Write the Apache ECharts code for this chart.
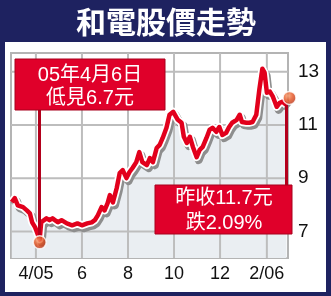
<!DOCTYPE html>
<html>
<head>
<meta charset="utf-8">
<script src="https://cdn.jsdelivr.net/npm/echarts@6/dist/echarts.min.js"></script>
<style>
html,body{margin:0;padding:0;background:#1e2260;}
#wrap{position:relative;width:331px;height:296px;background:#1e2260;}
#panel{position:absolute;left:5px;top:42px;width:321px;height:250px;background:#ffffff;}
#c{position:absolute;left:0;top:0;width:331px;height:296px;}
</style>
</head>
<body>
<div id="wrap"><div id="panel"></div><div id="c"></div></div>
<script>
var dates = ['2005-02-28','2005-03-04','2005-03-08','2005-03-15','2005-03-20','2005-03-24','2005-03-27','2005-03-31','2005-04-06','2005-04-08',
'2005-04-15','2005-04-19','2005-04-23','2005-04-30','2005-05-05','2005-05-12','2005-05-19','2005-05-26','2005-06-01','2005-06-08',
'2005-06-14','2005-06-18','2005-06-22','2005-06-27','2005-07-01','2005-07-05','2005-07-08','2005-07-12','2005-07-17','2005-07-21',
'2005-07-25','2005-07-30','2005-08-03','2005-08-07','2005-08-12','2005-08-16','2005-08-20','2005-08-26','2005-08-30','2005-09-03',
'2005-09-08','2005-09-12','2005-09-16','2005-09-21','2005-09-25','2005-09-30','2005-10-06','2005-10-11','2005-10-14','2005-10-18',
'2005-10-22','2005-10-26','2005-10-31','2005-11-04','2005-11-08','2005-11-13','2005-11-17','2005-11-21','2005-11-26','2005-11-30',
'2005-12-04','2005-12-09','2005-12-13','2005-12-17','2005-12-23','2005-12-27','2005-12-30','2006-01-05','2006-01-09','2006-01-13',
'2006-01-18','2006-01-22','2006-01-26','2006-01-29','2006-02-01','2006-02-05','2006-02-09','2006-02-14','2006-02-18','2006-02-22',
'2006-02-27'];
var prices = [8.1,8.25,7.98,7.91,7.79,7.68,7.34,7.15,6.7,7.34,
7.49,7.42,7.49,7.34,7.42,7.30,7.23,7.30,7.23,7.30,
7.34,7.42,7.60,7.91,7.79,8.06,8.36,8.09,8.62,9.19,
9.30,9.00,9.23,9.38,9.60,9.98,9.60,9.49,9.75,9.60,
10.13,10.25,10.51,10.89,11.38,11.49,11.19,11.08,10.55,10.32,
10.55,10.17,9.79,10.06,10.17,10.51,10.81,10.89,10.74,10.92,
10.62,10.70,10.92,11.08,11.19,11.38,11.11,11.08,11.08,11.11,
11.38,12.32,13.11,12.96,12.21,12.25,12.06,11.68,11.83,11.87,
11.75];
var tickDates = ['2005-04-01','2005-06-01','2005-08-01','2005-10-01','2005-12-01','2006-02-01'];
var tickLabels = ['4/05','6','8','10','12','2/06'];
var yTicks = [7,9,11,13];
var title = '和電股價走勢';
var note1 = ['05年4月6日','低見6.7元'];
var note2 = ['昨收11.7元','跌2.09%'];

// day number since 2005-01-01 (UTC-based, so no timezone drift)
function toDay(s){var p=s.split('-');return Math.round((Date.UTC(+p[0],+p[1]-1,+p[2]) - Date.UTC(2005,0,1))/86400000);}
var days = dates.map(toDay);
var tickDays = tickDates.map(toDay);
var series = days.map(function(t,i){return [t,prices[i]];});
var iMin = 0; prices.forEach(function(v,i){if(v<prices[iMin])iMin=i;});
var iLast = prices.length-1;
var xMin = toDay('2005-02-27'), xMax = toDay('2006-03-01'), yMin = 6, yMax = 13.7;

// grid lines as two-point line series, drawn right after the area fill
var GRID_LS = {color: '#bdbdbd', width: 2};
var gridSeries = tickDays.map(function(d){
  return {type: 'line', z: 1, symbol: 'none', lineStyle: GRID_LS, data: [[d, yMin], [d, yMax]]};
}).concat(yTicks.map(function(v){
  return {type: 'line', z: 1, symbol: 'none', lineStyle: GRID_LS, data: [[xMin, v], [xMax, v]]};
}));

var chart = echarts.init(document.getElementById('c'));
var FONT = '"Liberation Sans", "Noto Sans CJK TC", sans-serif';
chart.setOption({
  backgroundColor: 'transparent',
  animation: false,
  grid: {left: 11, right: 43, top: 53, bottom: 38, show: true, borderColor: '#b4b4b4', borderWidth: 2, backgroundColor: '#fff'},
  xAxis: {
    type: 'value', min: xMin, max: xMax,
    axisLine: {show: false},
    axisTick: {show: false, customValues: tickDays},
    axisLabel: {customValues: tickDays, color: '#111', fontSize: 18, fontFamily: FONT, margin: 7,
      formatter: function(v){var i = tickDays.indexOf(v); return i>=0 ? tickLabels[i] : '';}},
    splitLine: {show: false}
  },
  yAxis: {
    type: 'value', position: 'right', min: yMin, max: yMax,
    axisLine: {show: false},
    axisTick: {show: false, customValues: yTicks},
    axisLabel: {customValues: yTicks, color: '#111', fontSize: 19, fontFamily: FONT, margin: 10},
    splitLine: {show: false}
  },
  series: [
    {type: 'line', data: series, symbol: 'none', z: 1,
     lineStyle: {width: 0, color: 'rgba(0,0,0,0)'},
     areaStyle: {color: '#eaeef2', origin: 'start', opacity: 1}}
  ].concat(gridSeries).concat([
    {type: 'line', data: series, symbol: 'none', z: 3,
     lineStyle: {color: '#ffffff', width: 8, shadowColor: '#8e8e8e', shadowOffsetX: 2, shadowOffsetY: 3, shadowBlur: 0, join: 'round'}},
    {type: 'line', data: series, symbol: 'none', z: 4,
     lineStyle: {color: '#e2001c', width: 4.5, join: 'round'},
     markLine: {symbol: 'none', silent: true, label: {show: false},
       lineStyle: {color: '#b3001c', width: 3, type: 'solid'},
       data: [
         [{coord: [days[iMin], prices[iMin]]}, {coord: [days[iMin], 11.57]}],
         [{coord: [days[iLast], prices[iLast]]}, {coord: [days[iLast], 8.7]}]
       ]}},
    {type: 'scatter', z: 6, symbolSize: 13,
     data: [
       {value: series[iMin], symbolOffset: [0, 3]},
       {value: series[iLast], symbolOffset: [3, -7]}
     ],
     itemStyle: {
       color: {type: 'radial', x: 0.4, y: 0.35, r: 0.65, colorStops: [
         {offset: 0, color: '#f9a070'}, {offset: 0.5, color: '#e4501e'}, {offset: 1, color: '#b02c12'}]},
       borderColor: '#ffffff', borderWidth: 1.5
     }}
  ]),
  graphic: [
    {type: 'text', z: 10, style: {text: title, x: 166, y: 22, align: 'center', verticalAlign: 'middle',
      font: 'bold 30px "Noto Sans CJK TC", sans-serif', fill: '#ffffff'}},
    {type: 'rect', z: 10, shape: {x: 15, y: 59, width: 150, height: 51}, style: {fill: '#e0002a', stroke: '#a8001c', lineWidth: 1}},
    {type: 'text', z: 11, style: {text: note1[0], x: 90, y: 75, align: 'center', verticalAlign: 'middle', font: '20px ' + FONT, fill: '#fff'}},
    {type: 'text', z: 11, style: {text: note1[1], x: 90, y: 98, align: 'center', verticalAlign: 'middle', font: '20px ' + FONT, fill: '#fff'}},
    {type: 'rect', z: 10, shape: {x: 155, y: 185, width: 137, height: 49}, style: {fill: '#e0002a', stroke: '#a8001c', lineWidth: 1}},
    {type: 'text', z: 11, style: {text: note2[0], x: 224, y: 198, align: 'center', verticalAlign: 'middle', font: '20px ' + FONT, fill: '#fff'}},
    {type: 'text', z: 11, style: {text: note2[1], x: 224, y: 223, align: 'center', verticalAlign: 'middle', font: '20px ' + FONT, fill: '#fff'}}
  ]
});
</script>
</body>
</html>
